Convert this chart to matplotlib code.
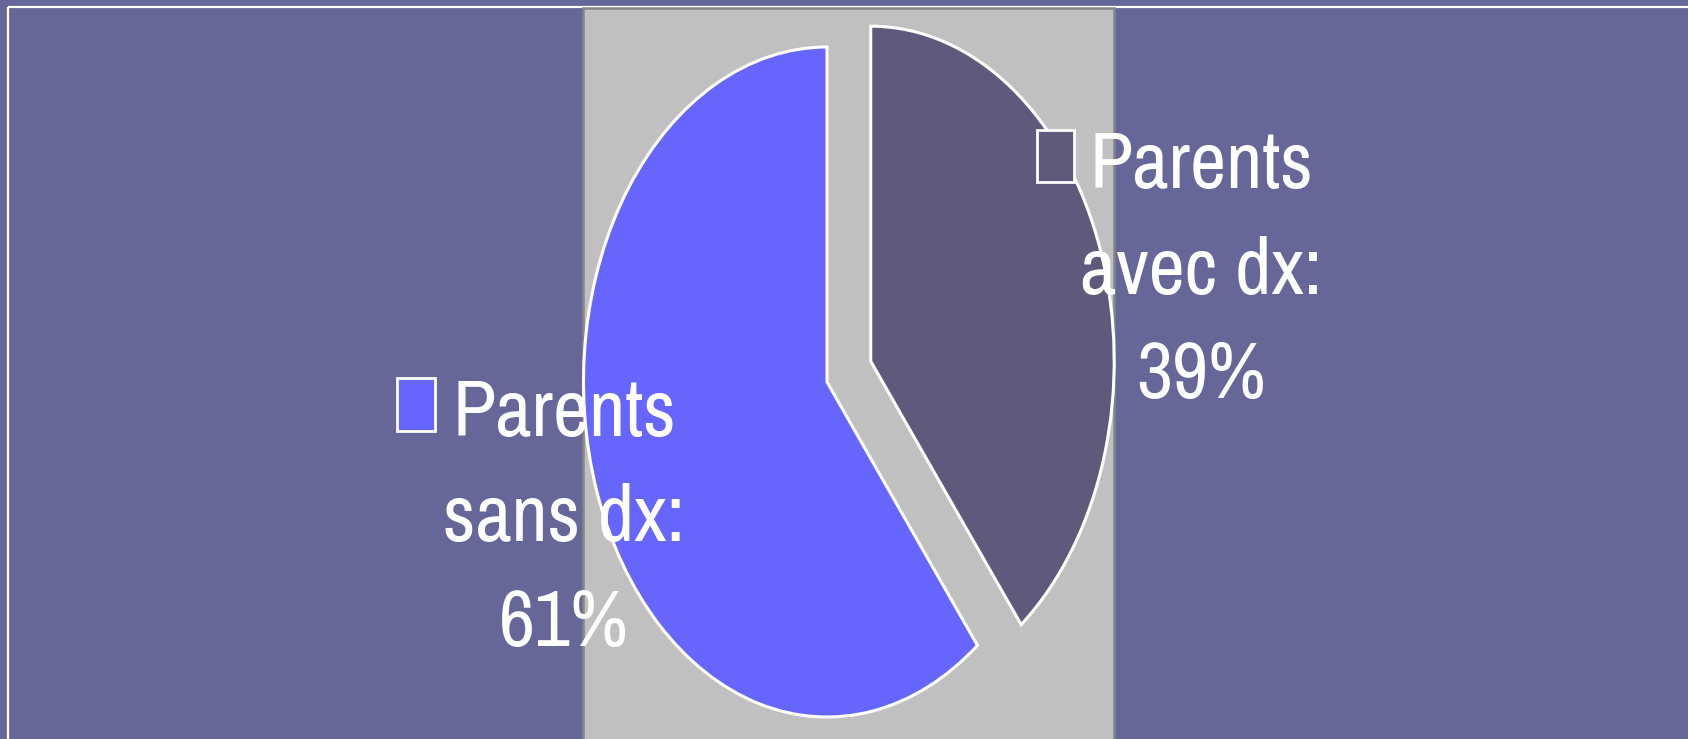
import matplotlib
matplotlib.use("Agg")
import matplotlib.pyplot as plt
from matplotlib.patches import Rectangle

# data
names = ["Parents avec dx", "Parents sans dx"]
values = [39.4, 60.6]
colors = ["#5f597b", "#6666ff"]

W, H = 1688, 739
fig = plt.figure(figsize=(W / 100, H / 100), dpi=100)
fig.patch.set_facecolor("#666699")

# background axes in pixel coords
bg = fig.add_axes([0, 0, 1, 1])
bg.set_xlim(0, W)
bg.set_ylim(H, 0)
bg.axis("off")
bg.add_patch(Rectangle((7.5, 6.5), W, H, fill=False, edgecolor="white", lw=1.6))
bg.add_patch(Rectangle((583, 8), 531, H, facecolor="#c0c0c0", edgecolor="#858585", lw=1.8))

# pie axes: ellipse stretched vertically (center 827,382 px; rx 243.5, ry 335)
cx, cy, rx, ry = 827, 382, 243.5, 335
ax = fig.add_axes([0, 0, 1, 1])
ax.patch.set_alpha(0)
ax.pie(values, colors=colors, startangle=90, counterclock=False,
       explode=[0.19, 0], radius=1,
       wedgeprops=dict(edgecolor="white", linewidth=2.2))
ax.set_aspect("auto")
ax.set_xlim(-cx / rx, (W - cx) / rx)
ax.set_ylim(-(H - cy) / ry, cy / ry)
ax.axis("off")

# labels overlay
tx = fig.add_axes([0, 0, 1, 1])
tx.patch.set_alpha(0)
tx.set_xlim(0, W)
tx.set_ylim(H, 0)
tx.axis("off")

fam = ["Archivo Narrow", "DejaVu Sans"]
label_pos = [(1201, [188, 294, 398], (1037, 130, 37, 52)),
             (564, [436, 541, 646], (397, 378, 38, 53))]
for name, val, col, (x, baselines, key) in zip(names, values, colors, label_pos):
    first, rest = name.split(" ", 1)
    lines = [first, rest + ":", f"{val:.0f}%"]
    for line, yb in zip(lines, baselines):
        tx.text(x, yb, line, ha="center", va="baseline", color="white",
                fontsize=57, family=fam)
    kx, ky, kw, kh = key
    tx.add_patch(Rectangle((kx, ky), kw, kh, facecolor=col, edgecolor="white", lw=2))

fig.savefig("out.png", dpi=100, facecolor=fig.get_facecolor())
